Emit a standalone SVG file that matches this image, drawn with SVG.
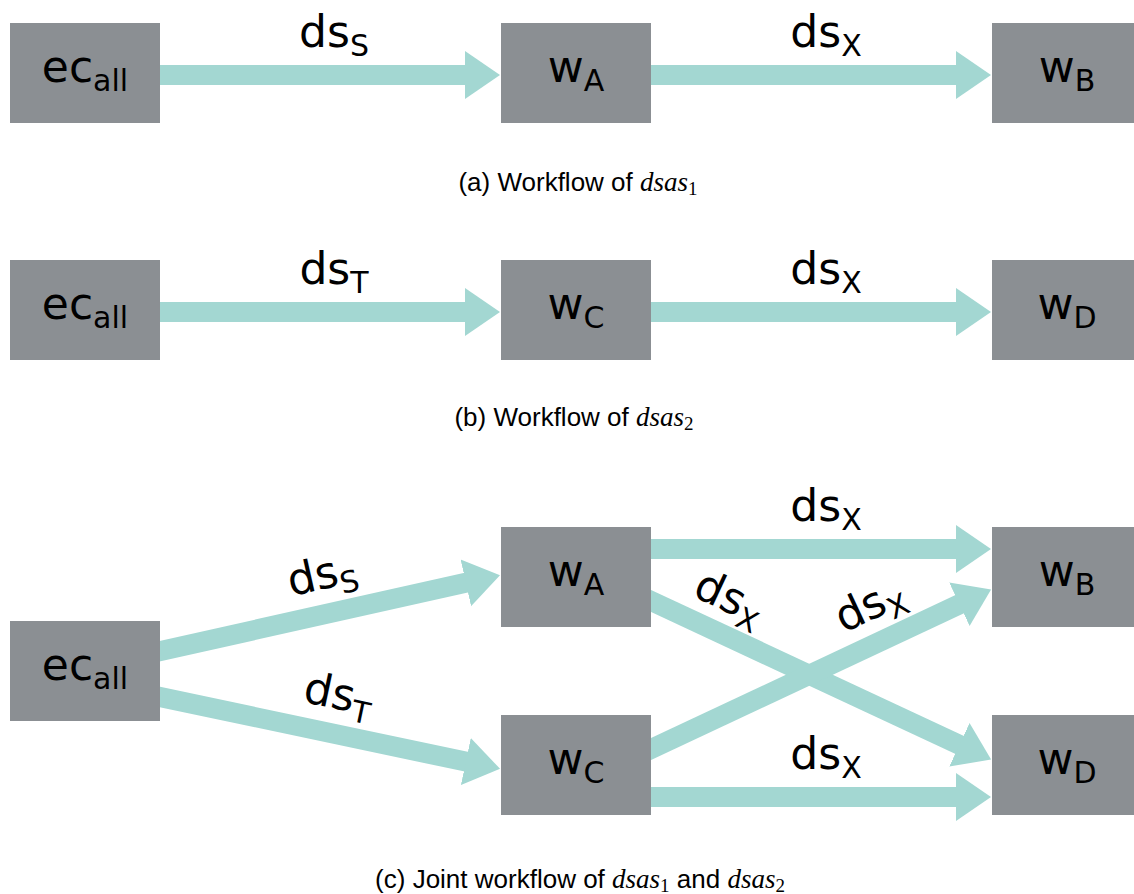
<svg xmlns="http://www.w3.org/2000/svg" width="1134" height="894" viewBox="0 0 1134 894">
  <style>
    .box { fill: #8b8f93; }
    .lbl { font-family: "DejaVu Sans", Verdana, sans-serif; font-size: 44px; fill: #000; text-anchor: middle; }
    .sub { font-size: 30px; }
    .edge { stroke: #a3d7d2; stroke-width: 20; fill: none; marker-end: url(#head); }
    .cap { font-family: "Liberation Sans", Arial, sans-serif; font-size: 26px; fill: #000; text-anchor: middle; }
    .math { font-family: "Liberation Serif", "Times New Roman", serif; font-style: italic; font-size: 27px; }
    .idx { font-family: "Liberation Serif", "Times New Roman", serif; font-style: normal; font-size: 19px; }
  </style>
  <defs>
    <marker id="head" markerUnits="userSpaceOnUse" markerWidth="40" markerHeight="52" viewBox="0 -26 40 52" refX="1" refY="0" orient="auto">
      <path d="M0,-24 L35,0 L0,24 Z" fill="#a3d7d2"/>
    </marker>
  </defs>

  <rect width="1134" height="894" fill="#fff"/>

  <!-- connectors -->
  <g id="connectors">
    <!-- (a) -->
    <line class="edge" x1="150" y1="75" x2="466" y2="75"/>
    <line class="edge" x1="640" y1="75" x2="957" y2="75"/>
    <!-- (b) -->
    <line class="edge" x1="150" y1="312" x2="466" y2="312"/>
    <line class="edge" x1="640" y1="312" x2="957" y2="312"/>
    <!-- (c) -->
    <line class="edge" x1="140.5" y1="655.4" x2="466.8" y2="582.6"/>
    <line class="edge" x1="140.4" y1="692.9" x2="466.8" y2="761.8"/>
    <line class="edge" x1="640" y1="549" x2="957" y2="549"/>
    <line class="edge" x1="640" y1="797" x2="957" y2="797"/>
    <line class="edge" x1="632.9" y1="592.5" x2="960.3" y2="745.2"/>
    <line class="edge" x1="632.9" y1="757.5" x2="960.3" y2="603.9"/>

    <!-- edge labels -->
    <text class="lbl" x="334" y="47">ds<tspan class="sub" dy="9">S</tspan></text>
    <text class="lbl" x="826" y="47">ds<tspan class="sub" dy="9">X</tspan></text>
    <text class="lbl" x="334" y="284">ds<tspan class="sub" dy="9">T</tspan></text>
    <text class="lbl" x="826" y="284">ds<tspan class="sub" dy="9">X</tspan></text>
    <text class="lbl" x="826" y="521">ds<tspan class="sub" dy="9">X</tspan></text>
    <text class="lbl" x="826" y="769">ds<tspan class="sub" dy="9">X</tspan></text>
    <text class="lbl" transform="translate(330.5 613) rotate(-12.56)" x="0" y="-25">ds<tspan class="sub" dy="9">S</tspan></text>
    <text class="lbl" transform="translate(330.5 733) rotate(11.92)" x="0" y="-25">ds<tspan class="sub" dy="9">T</tspan></text>
    <text class="lbl" transform="translate(714.4 630.6) rotate(25)" x="0" y="-22">ds<tspan class="sub" dy="9">X</tspan></text>
    <text class="lbl" transform="translate(885.5 639) rotate(-25.1)" x="0" y="-23">ds<tspan class="sub" dy="9">X</tspan></text>
  </g>

  <!-- (a) workflow of dsas1 -->
  <g id="a-ecall"><rect class="box" x="10" y="23" width="150" height="100"/><text class="lbl" x="85" y="82">ec<tspan class="sub" dy="9">all</tspan></text></g>
  <g id="a-wA"><rect class="box" x="501" y="23" width="150" height="100"/><text class="lbl" x="576" y="82">w<tspan class="sub" dy="9">A</tspan></text></g>
  <g id="a-wB"><rect class="box" x="992" y="23" width="150" height="100"/><text class="lbl" x="1067" y="82">w<tspan class="sub" dy="9">B</tspan></text></g>
  <text class="cap" x="578" y="191">(a) Workflow of <tspan class="math">dsas</tspan><tspan class="idx" dy="4">1</tspan></text>

  <!-- (b) workflow of dsas2 -->
  <g id="b-ecall"><rect class="box" x="10" y="260" width="150" height="100"/><text class="lbl" x="85" y="319">ec<tspan class="sub" dy="9">all</tspan></text></g>
  <g id="b-wC"><rect class="box" x="501" y="260" width="150" height="100"/><text class="lbl" x="576" y="319">w<tspan class="sub" dy="9">C</tspan></text></g>
  <g id="b-wD"><rect class="box" x="992" y="260" width="150" height="100"/><text class="lbl" x="1067" y="319">w<tspan class="sub" dy="9">D</tspan></text></g>
  <text class="cap" x="574" y="426">(b) Workflow of <tspan class="math">dsas</tspan><tspan class="idx" dy="4">2</tspan></text>

  <!-- (c) joint workflow -->
  <g id="c-ecall"><rect class="box" x="10" y="621" width="150" height="100"/><text class="lbl" x="85" y="680">ec<tspan class="sub" dy="9">all</tspan></text></g>
  <g id="c-wA"><rect class="box" x="501" y="527" width="150" height="100"/><text class="lbl" x="576" y="586">w<tspan class="sub" dy="9">A</tspan></text></g>
  <g id="c-wC"><rect class="box" x="501" y="715" width="150" height="100"/><text class="lbl" x="576" y="774">w<tspan class="sub" dy="9">C</tspan></text></g>
  <g id="c-wB"><rect class="box" x="992" y="527" width="150" height="100"/><text class="lbl" x="1067" y="586">w<tspan class="sub" dy="9">B</tspan></text></g>
  <g id="c-wD"><rect class="box" x="992" y="715" width="150" height="100"/><text class="lbl" x="1067" y="774">w<tspan class="sub" dy="9">D</tspan></text></g>
  <text class="cap" x="580" y="888">(c) Joint workflow of <tspan class="math">dsas</tspan><tspan class="idx" dy="4">1</tspan><tspan dy="-4"> and </tspan><tspan class="math">dsas</tspan><tspan class="idx" dy="4">2</tspan></text>
</svg>
